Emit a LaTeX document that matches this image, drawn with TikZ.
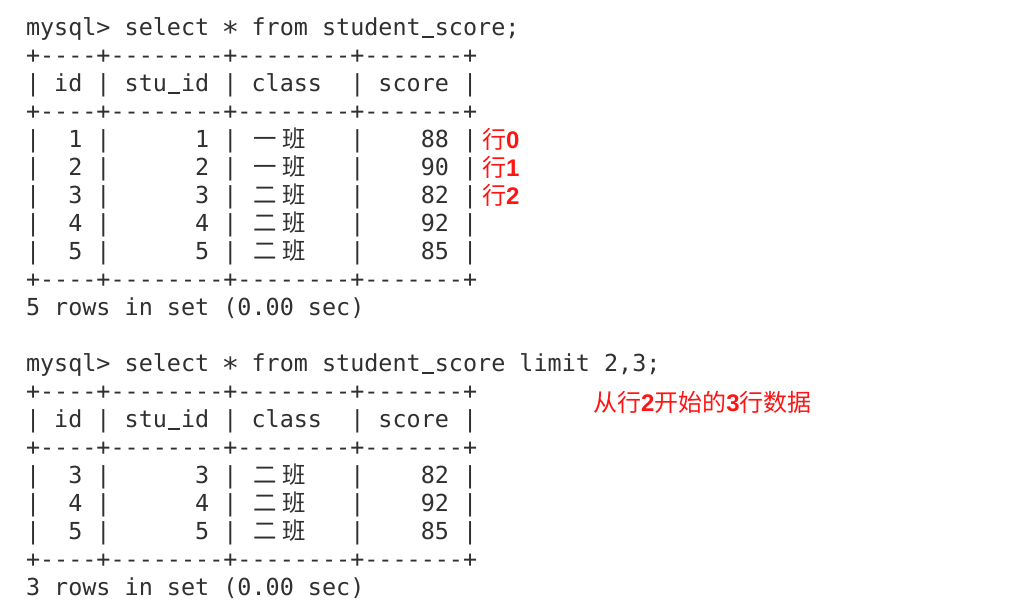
\documentclass[tikz,border=0pt]{standalone}
\usepackage{fontspec}
\setmonofont{DejaVu Sans Mono}
\newfontfamily\cjk{Noto Sans CJK SC}
\newfontfamily\numb{Liberation Sans}
\definecolor{termgray}{HTML}{303030}
\definecolor{annred}{HTML}{FF1414}
\newlength\cw
\setlength\cw{14.09pt}
\newcommand\cj[1]{\makebox[2\cw][c]{\cjk\fontsize{23.4pt}{28pt}\selectfont #1}}
\newcommand\termstar{\makebox[\cw][c]{\raisebox{-7pt}{\scalebox{1.25}{*}}}}
\newcommand\us{\makebox[\cw][c]{\rule[-2.2pt]{12.5pt}{1.8pt}}}
\newcommand\dg[1]{{\numb\bfseries #1}}
\tikzset{
  tline/.style={anchor=base west, inner sep=0pt, outer sep=0pt, text=termgray,
    font=\ttfamily\fontsize{23.42pt}{28pt}\selectfont},
  ann/.style={anchor=base west, inner sep=0pt, outer sep=0pt, text=annred,
    font=\cjk\fontsize{24pt}{28pt}\selectfont}
}
\begin{document}
\begin{tikzpicture}[x=1pt,y=-1pt]
\useasboundingbox[fill=white] (0,0) rectangle (1012,610);
% first query
\node[tline] (l0) at (26,35.5) {mysql>~select~\termstar~from~student\us score;};
\node[tline] (l1) at (26,63.5) {+----+--------+--------+-------+};
\node[tline] (l2) at (26,91.5) {|~id~|~stu\us id~|~class~~|~score~|};
\node[tline] (l3) at (26,119.5) {+----+--------+--------+-------+};
\node[tline] (l4) at (26,147.5) {|~~1~|~~~~~~1~|~\cj{一}\cj{班}~~~|~~~~88~|};
\node[tline] (l5) at (26,175.5) {|~~2~|~~~~~~2~|~\cj{一}\cj{班}~~~|~~~~90~|};
\node[tline] (l6) at (26,203.5) {|~~3~|~~~~~~3~|~\cj{二}\cj{班}~~~|~~~~82~|};
\node[tline] (l7) at (26,231.5) {|~~4~|~~~~~~4~|~\cj{二}\cj{班}~~~|~~~~92~|};
\node[tline] (l8) at (26,259.5) {|~~5~|~~~~~~5~|~\cj{二}\cj{班}~~~|~~~~85~|};
\node[tline] (l9) at (26,287.5) {+----+--------+--------+-------+};
\node[tline] (l10) at (26,315.5) {5~rows~in~set~(0.00~sec)};
% second query
\node[tline] (l12) at (26,371.5) {mysql>~select~\termstar~from~student\us score~limit~2,3;};
\node[tline] (l13) at (26,399.5) {+----+--------+--------+-------+};
\node[tline] (l14) at (26,427.5) {|~id~|~stu\us id~|~class~~|~score~|};
\node[tline] (l15) at (26,455.5) {+----+--------+--------+-------+};
\node[tline] (l16) at (26,483.5) {|~~3~|~~~~~~3~|~\cj{二}\cj{班}~~~|~~~~82~|};
\node[tline] (l17) at (26,511.5) {|~~4~|~~~~~~4~|~\cj{二}\cj{班}~~~|~~~~92~|};
\node[tline] (l18) at (26,539.5) {|~~5~|~~~~~~5~|~\cj{二}\cj{班}~~~|~~~~85~|};
\node[tline] (l19) at (26,567.5) {+----+--------+--------+-------+};
\node[tline] (l20) at (26,595.5) {3~rows~in~set~(0.00~sec)};
% annotations
\node[ann] (r0) at (482,148.5) {行\dg{0}};
\node[ann] (r1) at (482,176.5) {行\dg{1}};
\node[ann] (r2) at (482,204.5) {行\dg{2}};
\node[ann] (note) at (593,411.5) {从行\dg{2}开始的\dg{3}行数据};
\end{tikzpicture}
\end{document}
